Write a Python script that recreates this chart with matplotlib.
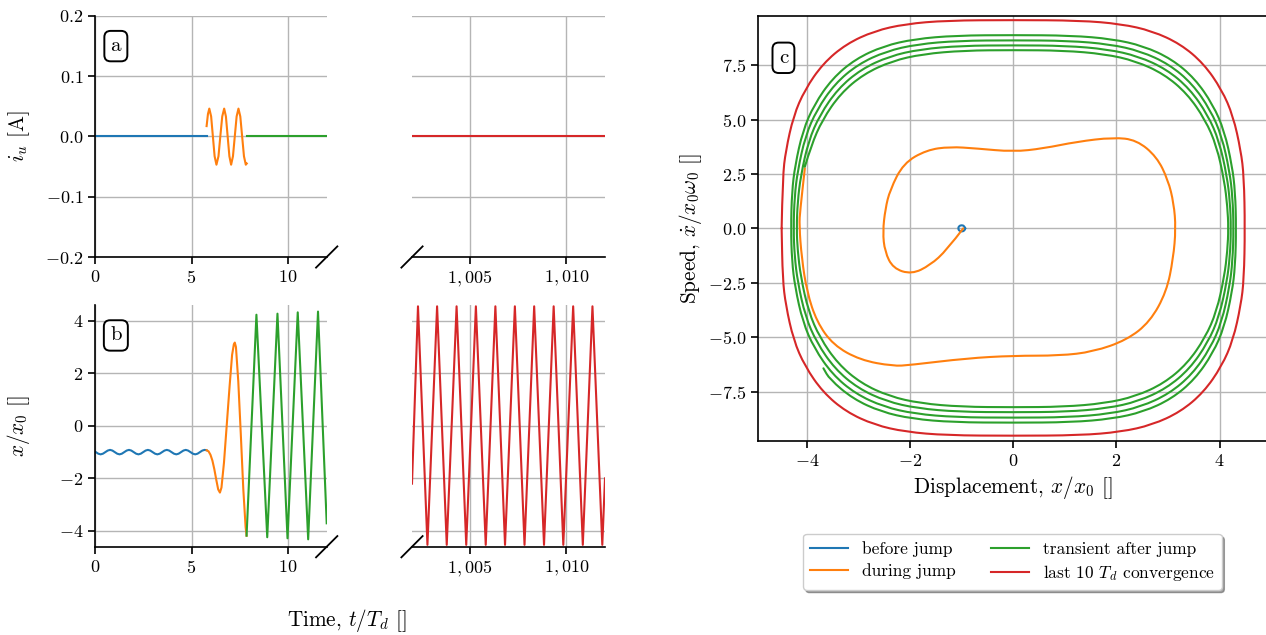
import matplotlib
matplotlib.use("Agg")
import matplotlib.pyplot as plt
from matplotlib.ticker import FixedLocator, FuncFormatter
from matplotlib.path import Path
from matplotlib.patches import PathPatch

plt.rcParams.update({
    "font.family": "serif",
    "font.serif": ["cmr10"],
    "mathtext.fontset": "cm",
    "axes.unicode_minus": False,
})

C_BEFORE, C_DURING, C_AFTER, C_LAST = "#1f77b4", "#ff7f0e", "#2ca02c", "#d62728"

# ---- panel a: current i_u [A] ----
ia_t_before = [0.0, 5.78]
ia_before = [0.0, 0.0]
ia_t_during = [5.78, 5.85, 5.92, 6.015, 6.105, 6.195, 6.29, 6.395, 6.49, 6.59, 6.69,
               6.78, 6.87, 6.96, 7.05, 7.145, 7.24, 7.335, 7.43, 7.525, 7.62, 7.715, 7.81, 7.86]
ia_during = [0.017, 0.037, 0.046, 0.033, 0.0, -0.033, -0.047, -0.033, 0.0, 0.033, 0.046,
             0.033, 0.0, -0.033, -0.047, -0.033, 0.0, 0.033, 0.046, 0.033, 0.0, -0.033, -0.047, -0.045]
ia_t_after = [7.86, 12.0]
ia_after = [0.0, 0.0]
ia_t_last = [1002.0, 1012.0]
ia_last = [0.0, 0.0]

# ---- panel b: displacement x/x0 ----
xb_t_before = [0.0, 0.045, 0.17,
               0.29, 0.41, 0.535, 0.66, 0.78, 0.90, 1.025, 1.15,
               1.27, 1.39, 1.515, 1.64, 1.76, 1.88, 2.005, 2.13,
               2.25, 2.37, 2.495, 2.62, 2.74, 2.86, 2.985, 3.11,
               3.23, 3.35, 3.475, 3.60, 3.72, 3.84, 3.965, 4.09,
               4.21, 4.33, 4.455, 4.58, 4.70, 4.82, 4.945, 5.07,
               5.19, 5.31, 5.435, 5.56, 5.68, 5.78]
xb_before = [-0.985, -1.0, -1.06,
             -1.085, -1.06, -1.0, -0.94, -0.915, -0.94, -1.0, -1.06,
             -1.085, -1.06, -1.0, -0.94, -0.915, -0.94, -1.0, -1.06,
             -1.085, -1.06, -1.0, -0.94, -0.915, -0.94, -1.0, -1.06,
             -1.085, -1.06, -1.0, -0.94, -0.915, -0.94, -1.0, -1.06,
             -1.085, -1.06, -1.0, -0.94, -0.915, -0.94, -1.0, -1.06,
             -1.085, -1.06, -1.0, -0.94, -0.915, -0.93]
xb_t_during = [5.78, 5.88, 5.98, 6.08, 6.18, 6.28, 6.38, 6.47, 6.55, 6.68, 6.82, 6.97,
               7.10, 7.19, 7.24, 7.30, 7.42, 7.55, 7.68, 7.80, 7.85]
xb_during = [-0.93, -0.97, -1.1, -1.32, -1.65, -2.05, -2.42, -2.54, -2.35, -1.4, 0.0, 1.5,
             2.7, 3.1, 3.17, 3.0, 1.7, -0.3, -2.4, -3.85, -4.18]
xb_t_after = [7.85, 8.36, 8.92, 9.45, 9.97, 10.50, 11.04, 11.55, 12.0]
xb_after = [-4.18, 4.23, -4.24, 4.27, -4.28, 4.32, -4.32, 4.35, -3.71]
xb_t_last = [1002.0, 1002.31, 1002.80, 1003.30, 1003.80, 1004.31, 1004.81, 1005.31, 1005.82,
             1006.32, 1006.82, 1007.33, 1007.83, 1008.33, 1008.84, 1009.34, 1009.84,
             1010.35, 1010.85, 1011.35, 1011.86, 1012.0]
xb_last = [-2.2, 4.55, -4.53, 4.55, -4.53, 4.55, -4.53, 4.55, -4.53, 4.55, -4.53, 4.55, -4.53,
           4.55, -4.53, 4.55, -4.53, 4.55, -4.53, 4.55, -4.53, -2.0]

# ---- panel c: phase portrait (x/x0, xdot/x0w0) ----
ph_x_before = [-0.93, -0.95, -1.0, -1.05, -1.07, -1.05, -1.0, -0.95, -0.93]
ph_v_before = [0.0, 0.11, 0.15, 0.11, 0.0, -0.11, -0.15, -0.11, 0.0]

ph_x_during = [-0.97, -1.29, -1.61, -1.97, -2.33, -2.49, -2.53, -2.48, -2.39, -2.13, -1.68,
               -1.23, -0.71, 0.0, 0.58, 1.23, 1.94, 2.39, 2.78, 3.00, 3.11, 3.15, 3.10, 2.97,
               2.65, 2.20, 1.55, 0.90, 0.0, -0.90, -2.00, -2.33, -2.97, -3.49, -3.81, -4.00,
               -4.10, -4.15, -4.13, -4.04]
ph_v_during = [0.0, -1.0, -1.69, -2.11, -1.84, -1.07, -0.16, 0.90, 1.76, 2.99, 3.60,
               3.75, 3.67, 3.52, 3.67, 3.98, 4.18, 4.06, 3.29, 2.22, 1.15, 0.0, -1.38, -2.91,
               -4.29, -5.13, -5.67, -5.85, -5.85, -5.97, -6.28, -6.33, -6.05, -5.36, -4.29, -2.91,
               -1.38, 0.15, 0.84, 2.76]

ph_x_after = [
    -4.04, -3.92, -3.70, -3.35, -2.90, -2.35, -1.75, -0.95, 0.0,
    0.97, 1.77, 2.37, 2.92, 3.37, 3.72, 3.94, 4.09, 4.15, 4.17,
    4.15, 4.09, 3.94, 3.72, 3.37, 2.92, 2.37, 1.77, 0.97, 0.0,
    -1.00, -1.80, -2.40, -2.95, -3.40, -3.75, -3.97, -4.12, -4.18, -4.20,
    -4.18, -4.12, -3.97, -3.75, -3.40, -2.95, -2.40, -1.80, -1.00, 0.0,
    1.02, 1.82, 2.42, 2.97, 3.42, 3.77, 3.99, 4.14, 4.20, 4.22,
    4.20, 4.14, 3.99, 3.77, 3.42, 2.97, 2.42, 1.82, 1.02, 0.0,
    -1.06, -1.86, -2.46, -3.01, -3.46, -3.81, -4.03, -4.18, -4.24, -4.26,
    -4.24, -4.18, -4.03, -3.81, -3.46, -3.01, -2.46, -1.86, -1.06, 0.0,
    1.07, 1.87, 2.47, 3.02, 3.47, 3.82, 4.04, 4.19, 4.25, 4.27,
    4.25, 4.19, 4.04, 3.82, 3.47, 3.02, 2.47, 1.87, 1.07, 0.0,
    -1.11, -1.91, -2.51, -3.06, -3.51, -3.86, -4.08, -4.23, -4.29, -4.31,
    -4.29, -4.23, -4.08, -3.86, -3.51, -3.06, -2.51, -1.91, -1.11, 0.0,
    1.12, 1.92, 2.52, 3.07, 3.52, 3.87, 4.09, 4.24, 4.30, 4.32,
    4.30, 4.24, 4.09, 3.87, 3.52, 3.07, 2.52, 1.92, 1.12, 0.0,
    -1.16, -1.96, -2.56, -3.11, -3.56, -3.68]
ph_v_after = [
    2.83, 3.79, 4.99, 6.19, 7.09, 7.69, 8.01, 8.17, 8.19,
    8.17, 8.01, 7.69, 7.09, 6.19, 4.99, 3.79, 2.19, 0.99, 0.0,
    -1.02, -2.22, -3.82, -5.02, -6.22, -7.12, -7.72, -8.04, -8.20, -8.22,
    -8.20, -8.04, -7.72, -7.12, -6.22, -5.02, -3.82, -2.22, -1.02, 0.0,
    1.21, 2.41, 4.01, 5.21, 6.41, 7.31, 7.91, 8.23, 8.39, 8.41,
    8.39, 8.23, 7.91, 7.31, 6.41, 5.21, 4.01, 2.41, 1.21, 0.0,
    -1.25, -2.45, -4.05, -5.25, -6.45, -7.35, -7.95, -8.27, -8.43, -8.45,
    -8.43, -8.27, -7.95, -7.35, -6.45, -5.25, -4.05, -2.45, -1.25, 0.0,
    1.44, 2.64, 4.24, 5.44, 6.64, 7.54, 8.14, 8.46, 8.62, 8.64,
    8.62, 8.46, 8.14, 7.54, 6.64, 5.44, 4.24, 2.64, 1.44, 0.0,
    -1.50, -2.70, -4.30, -5.50, -6.70, -7.60, -8.20, -8.52, -8.68, -8.70,
    -8.68, -8.52, -8.20, -7.60, -6.70, -5.50, -4.30, -2.70, -1.50, 0.0,
    1.68, 2.88, 4.48, 5.68, 6.88, 7.78, 8.38, 8.70, 8.86, 8.88,
    8.86, 8.70, 8.38, 7.78, 6.88, 5.68, 4.48, 2.88, 1.68, 0.0,
    -1.73, -2.93, -4.53, -5.73, -6.93, -7.83, -8.43, -8.75, -8.91, -8.93,
    -8.91, -8.75, -8.43, -7.83, -6.93, -6.43]

ph_x_last = [-4.49, -4.47, -4.41, -4.26, -4.04, -3.69, -3.24, -2.69, -2.09, -1.29, 0.0,
             1.29, 2.09, 2.69, 3.24, 3.69, 4.04, 4.26, 4.41, 4.47, 4.49,
             4.47, 4.41, 4.26, 4.04, 3.69, 3.24, 2.69, 2.09, 1.29, 0.0,
             -1.29, -2.09, -2.69, -3.24, -3.69, -4.04, -4.26, -4.41, -4.47, -4.49]
ph_v_last = [0.0, 2.37, 3.57, 5.17, 6.37, 7.57, 8.47, 9.07, 9.39, 9.55, 9.57,
             9.55, 9.39, 9.07, 8.47, 7.57, 6.37, 5.17, 3.57, 2.37, 0.0,
             -2.33, -3.53, -5.13, -6.33, -7.53, -8.43, -9.03, -9.35, -9.51, -9.53,
             -9.51, -9.35, -9.03, -8.43, -7.53, -6.33, -5.13, -3.53, -2.33, 0.0]

labels = ["before jump", "during jump", "transient after jump", r"last 10 $T_d$ convergence"]

W, H = 1266, 635
TICK_FS, LABEL_FS = 13, 15.3


def box(x0, y0, x1, y1):
    # pixel box (top-left origin) -> figure fraction
    return [x0 / W, 1 - y1 / H, (x1 - x0) / W, (y1 - y0) / H]


def fmt(spec):
    return FuncFormatter(lambda v, p: "$" + format(v, spec) + "$")


def style(ax, lw=1.2):
    ax.grid(True, color="#b5b5b5", lw=1.0)
    ax.set_axisbelow(True)
    ax.tick_params(direction="out", length=5, width=lw, labelsize=TICK_FS)
    for s in ax.spines.values():
        s.set_linewidth(lw)


def smooth_line(ax, xs, ys, color, lw=1.5):
    # quadratic bezier through the midpoints, listed points act as control points
    pts = list(zip(xs, ys))
    verts, codes = [pts[0]], [Path.MOVETO]
    for i in range(1, len(pts) - 1):
        mid = ((pts[i][0] + pts[i + 1][0]) / 2, (pts[i][1] + pts[i + 1][1]) / 2)
        verts += [pts[i], mid]
        codes += [Path.CURVE3, Path.CURVE3]
    verts.append(pts[-1])
    codes.append(Path.LINETO)
    ax.add_patch(PathPatch(Path(verts, codes), fill=False, ec=color, lw=lw,
                           capstyle="round", joinstyle="round"))


def panel_label(ax, txt, x, y):
    ax.text(x, y, txt, transform=ax.transAxes, ha="center", va="center", fontsize=15,
            bbox=dict(boxstyle="round,pad=0.3", fc="white", ec="black", lw=1.4))


def break_mark(ax, xc, dx, dy):
    ax.plot([xc - dx, xc + dx], [-dy, dy], transform=ax.transAxes, color="k",
            lw=1.3, clip_on=False)


fig = plt.figure(figsize=(W / 100, H / 100), dpi=100)

ax_a = fig.add_axes(box(95, 15.7, 326.7, 257))
ax_a2 = fig.add_axes(box(412, 15.7, 605, 257))
ax_b = fig.add_axes(box(95, 305, 326.7, 546.7))
ax_b2 = fig.add_axes(box(412, 305, 605, 546.7))
ax_c = fig.add_axes(box(757.9, 15.7, 1268.7, 441))

lw = 1.5
ax_a.plot(ia_t_before, ia_before, color=C_BEFORE, lw=lw)
ax_a.plot(ia_t_during, ia_during, color=C_DURING, lw=lw)
ax_a.plot(ia_t_after, ia_after, color=C_AFTER, lw=lw)
ax_a2.plot(ia_t_last, ia_last, color=C_LAST, lw=lw)

ax_b.plot(xb_t_before, xb_before, color=C_BEFORE, lw=lw)
ax_b.plot(xb_t_during, xb_during, color=C_DURING, lw=lw)
ax_b.plot(xb_t_after, xb_after, color=C_AFTER, lw=lw)
ax_b2.plot(xb_t_last, xb_last, color=C_LAST, lw=lw)

smooth_line(ax_c, ph_x_before, ph_v_before, C_BEFORE)
smooth_line(ax_c, ph_x_during, ph_v_during, C_DURING)
smooth_line(ax_c, ph_x_after, ph_v_after, C_AFTER)
smooth_line(ax_c, ph_x_last, ph_v_last, C_LAST)
handles = [ax_c.plot([], [], color=c, lw=lw)[0] for c in (C_BEFORE, C_DURING, C_AFTER, C_LAST)]

for ax_l, ax_r, ylim, yt, yf in [(ax_a, ax_a2, (-0.2, 0.2), [-0.2, -0.1, 0.0, 0.1, 0.2], ".1f"),
                                 (ax_b, ax_b2, (-4.6, 4.6), [-4, -2, 0, 2, 4], ".0f")]:
    for ax in (ax_l, ax_r):
        style(ax)
        ax.set_ylim(*ylim)
        ax.yaxis.set_major_locator(FixedLocator(yt))
        ax.spines["top"].set_visible(False)
        ax.spines["right"].set_visible(False)
    ax_l.set_xlim(0, 12)
    ax_l.xaxis.set_major_locator(FixedLocator([0, 5, 10]))
    ax_l.xaxis.set_major_formatter(fmt(".0f"))
    ax_l.yaxis.set_major_formatter(fmt(yf))
    ax_r.set_xlim(1002, 1012)
    ax_r.xaxis.set_major_locator(FixedLocator([1005, 1010]))
    ax_r.xaxis.set_major_formatter(fmt(",.0f"))
    ax_r.spines["left"].set_visible(False)
    ax_r.tick_params(left=False, labelleft=False)
    break_mark(ax_l, 1.0, 0.046, 0.044)
    break_mark(ax_r, 0.0, 0.055, 0.044)

ax_a.set_ylabel(r"$i_u$ [A]", fontsize=LABEL_FS)
ax_b.set_ylabel(r"$x/x_0$ []", fontsize=LABEL_FS)
ax_a.yaxis.set_label_coords(-0.272, 0.5)
ax_b.yaxis.set_label_coords(-0.272, 0.5)
panel_label(ax_a, "a", 0.09, 0.874)
panel_label(ax_b, "b", 0.09, 0.874)
fig.text(347 / W, 1 - 620 / H, r"Time, $t/T_d$ []", ha="center", va="center", fontsize=LABEL_FS)

style(ax_c)
ax_c.set_xlim(-4.95, 4.95)
ax_c.set_ylim(-9.77, 9.77)
ax_c.xaxis.set_major_locator(FixedLocator([-4, -2, 0, 2, 4]))
ax_c.yaxis.set_major_locator(FixedLocator([-7.5, -5.0, -2.5, 0.0, 2.5, 5.0, 7.5]))
ax_c.xaxis.set_major_formatter(fmt(".0f"))
ax_c.yaxis.set_major_formatter(fmt(".1f"))
ax_c.set_xlabel(r"Displacement, $x/x_0$ []", fontsize=LABEL_FS)
ax_c.set_ylabel(r"Speed, $\dot{x}/x_0\omega_0$ []", fontsize=LABEL_FS)
ax_c.yaxis.set_label_coords(-0.105, 0.5)
panel_label(ax_c, "c", 0.05, 0.901)

fig.legend(handles, labels, loc="upper center",
           bbox_to_anchor=(1012.3 / W, 1 - 534 / H), ncol=2, fontsize=12.5,
           fancybox=True, shadow=True, framealpha=1, handlelength=2.2,
           columnspacing=2.0, borderaxespad=0.0, labelspacing=0.35)

fig.savefig("out.png", dpi=100)
